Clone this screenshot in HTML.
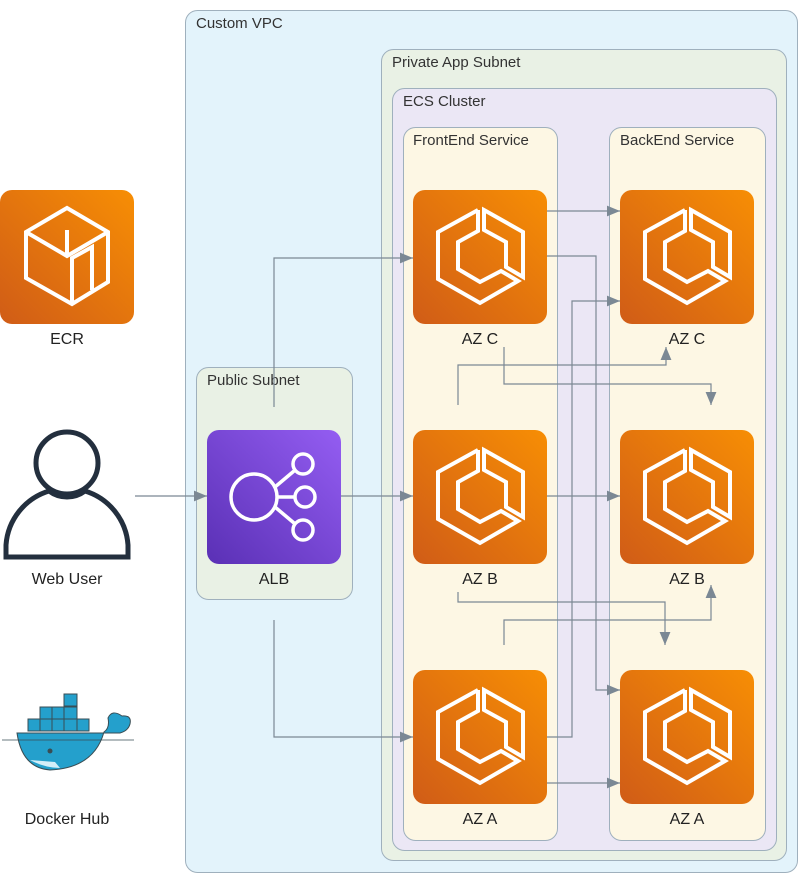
<!DOCTYPE html>
<html><head><meta charset="utf-8"><style>
html,body{margin:0;padding:0;background:#fff;}
svg{display:block;font-family:"Liberation Sans",sans-serif;}
</style></head><body>
<svg width="808" height="883" viewBox="0 0 808 883" xmlns="http://www.w3.org/2000/svg">
<defs>
<linearGradient id="og" x1="0" y1="1" x2="1" y2="0"><stop offset="0" stop-color="#d05c17"/><stop offset="1" stop-color="#f78e04"/></linearGradient>
<linearGradient id="pg" x1="0" y1="1" x2="1" y2="0"><stop offset="0" stop-color="#5a30b5"/><stop offset="1" stop-color="#945df2"/></linearGradient>
<marker id="ar" viewBox="0 0 12 10" refX="12" refY="5" markerWidth="13" markerHeight="11" markerUnits="userSpaceOnUse" orient="auto"><path d="M0,0L12,5L0,10z" fill="#7b8894"/></marker>
<g id="ecs">
<rect width="134" height="134" rx="12" fill="url(#og)"/>
<g fill="none" stroke="#fff" stroke-width="4" stroke-linejoin="miter">
<polyline points="65,20 25,42 25,89 67,113 105,91 88,81 67,92 45,79 45,52 65,41 65,20"/>
<polygon points="71,20 110,42 110,87 93,77 93,52 71,40"/>
</g>
</g>
</defs>
<g stroke="#9fb0bd">
<rect x="185.5" y="10.5" width="612" height="862" rx="12" fill="#e3f3fb"/>
<rect x="381.5" y="49.5" width="405" height="811" rx="12" fill="#e9f1e5"/>
<rect x="392.5" y="88.5" width="384" height="762" rx="12" fill="#ebe7f5"/>
<rect x="403.5" y="127.5" width="154" height="713" rx="12" fill="#fdf7e4"/>
<rect x="609.5" y="127.5" width="156" height="713" rx="12" fill="#fdf7e4"/>
<rect x="196.5" y="367.5" width="156" height="232" rx="12" fill="#e9f1e5"/>
</g>
<g font-size="15" fill="#333">
<text x="196" y="28">Custom VPC</text>
<text x="392" y="67">Private App Subnet</text>
<text x="403" y="106">ECS Cluster</text>
<text x="413" y="145">FrontEnd Service</text>
<text x="620" y="145">BackEnd Service</text>
<text x="207" y="385">Public Subnet</text>
</g>

<g fill="none" stroke="#7b8894" stroke-width="1.2">
<path d="M135,496H207" marker-end="url(#ar)"/>
<path d="M274,407V258H413" marker-end="url(#ar)"/>
<path d="M341,496H413" marker-end="url(#ar)"/>
<path d="M274,620V737H413" marker-end="url(#ar)"/>
<path d="M547,211H620" marker-end="url(#ar)"/>
<path d="M547,256H596V690H620" marker-end="url(#ar)"/>
<path d="M547,737H572V301H620" marker-end="url(#ar)"/>
<path d="M458,405V365H666V347" marker-end="url(#ar)"/>
<path d="M504,347V384H711V405" marker-end="url(#ar)"/>
<path d="M458,592V602H665V645" marker-end="url(#ar)"/>
<path d="M504,645V620H711V585" marker-end="url(#ar)"/>
<path d="M547,496H620" marker-end="url(#ar)"/>
<path d="M547,783H620" marker-end="url(#ar)"/>
</g>

<rect x="0" y="190" width="134" height="134" rx="12" fill="url(#og)"/>
<g fill="none" stroke="#fff" stroke-width="4" stroke-linejoin="miter">
<polygon points="67,208 108,232 108,282 72,304 26,278 26,232"/>
<polyline points="26,232 67,256 108,232"/>
<polyline points="67,256 67,230"/>
<polyline points="72,304 72,258 92,247 92,290"/>
</g>
<text x="67" y="344" font-size="16" fill="#222" text-anchor="middle">ECR</text>

<g fill="none" stroke="#232f3e" stroke-width="5">
<circle cx="67" cy="463" r="31"/>
<path d="M6,557V545A61,61 0 0 1 49,491A30,30 0 0 0 85,491A61,61 0 0 1 128,545V557Z"/>
</g>
<text x="67" y="584" font-size="16" fill="#222" text-anchor="middle">Web User</text>

<g stroke="#394d54" stroke-width="1">
<rect x="64" y="694" width="13" height="12" fill="#24a0cc"/>
<rect x="40" y="707" width="12" height="12" fill="#24a0cc"/><rect x="52" y="707" width="12" height="12" fill="#24a0cc"/><rect x="64" y="707" width="13" height="12" fill="#24a0cc"/>
<rect x="28" y="719" width="12" height="12" fill="#24a0cc"/><rect x="40" y="719" width="12" height="12" fill="#24a0cc"/><rect x="52" y="719" width="12" height="12" fill="#24a0cc"/><rect x="64" y="719" width="13" height="12" fill="#24a0cc"/><rect x="77" y="719" width="12" height="12" fill="#24a0cc"/>
<path d="M17,733H120Q128,731 130,724Q132,715 122,716Q112,709 108,718Q110,728 104,732Q94,768 50,770Q22,768 17,733Z" fill="#24a0cc"/>
<path d="M30,760Q45,768 60,768L55,762Z" fill="#d4eef8" stroke="none"/>
</g>
<circle cx="50" cy="751" r="2.5" fill="#394d54"/>
<path d="M2,740H134" stroke="#394d54" stroke-width="0.8"/>
<text x="67" y="824" font-size="16" fill="#222" text-anchor="middle">Docker Hub</text>

<rect x="207" y="430" width="134" height="134" rx="12" fill="url(#pg)"/>
<g fill="none" stroke="#fff" stroke-width="3.5">
<circle cx="254" cy="497" r="23"/>
<circle cx="303" cy="464" r="10"/><circle cx="305" cy="497" r="10"/><circle cx="303" cy="530" r="10"/>
<path d="M275,487L294,471M277,497H295M275,507L294,523"/>
</g>
<text x="274" y="584" font-size="16" fill="#222" text-anchor="middle">ALB</text>

<use href="#ecs" x="413" y="190"/><text x="480" y="344" font-size="16" fill="#222" text-anchor="middle">AZ C</text>
<use href="#ecs" x="413" y="430"/><text x="480" y="584" font-size="16" fill="#222" text-anchor="middle">AZ B</text>
<use href="#ecs" x="413" y="670"/><text x="480" y="824" font-size="16" fill="#222" text-anchor="middle">AZ A</text>
<use href="#ecs" x="620" y="190"/><text x="687" y="344" font-size="16" fill="#222" text-anchor="middle">AZ C</text>
<use href="#ecs" x="620" y="430"/><text x="687" y="584" font-size="16" fill="#222" text-anchor="middle">AZ B</text>
<use href="#ecs" x="620" y="670"/><text x="687" y="824" font-size="16" fill="#222" text-anchor="middle">AZ A</text>
</svg>
</body></html>
